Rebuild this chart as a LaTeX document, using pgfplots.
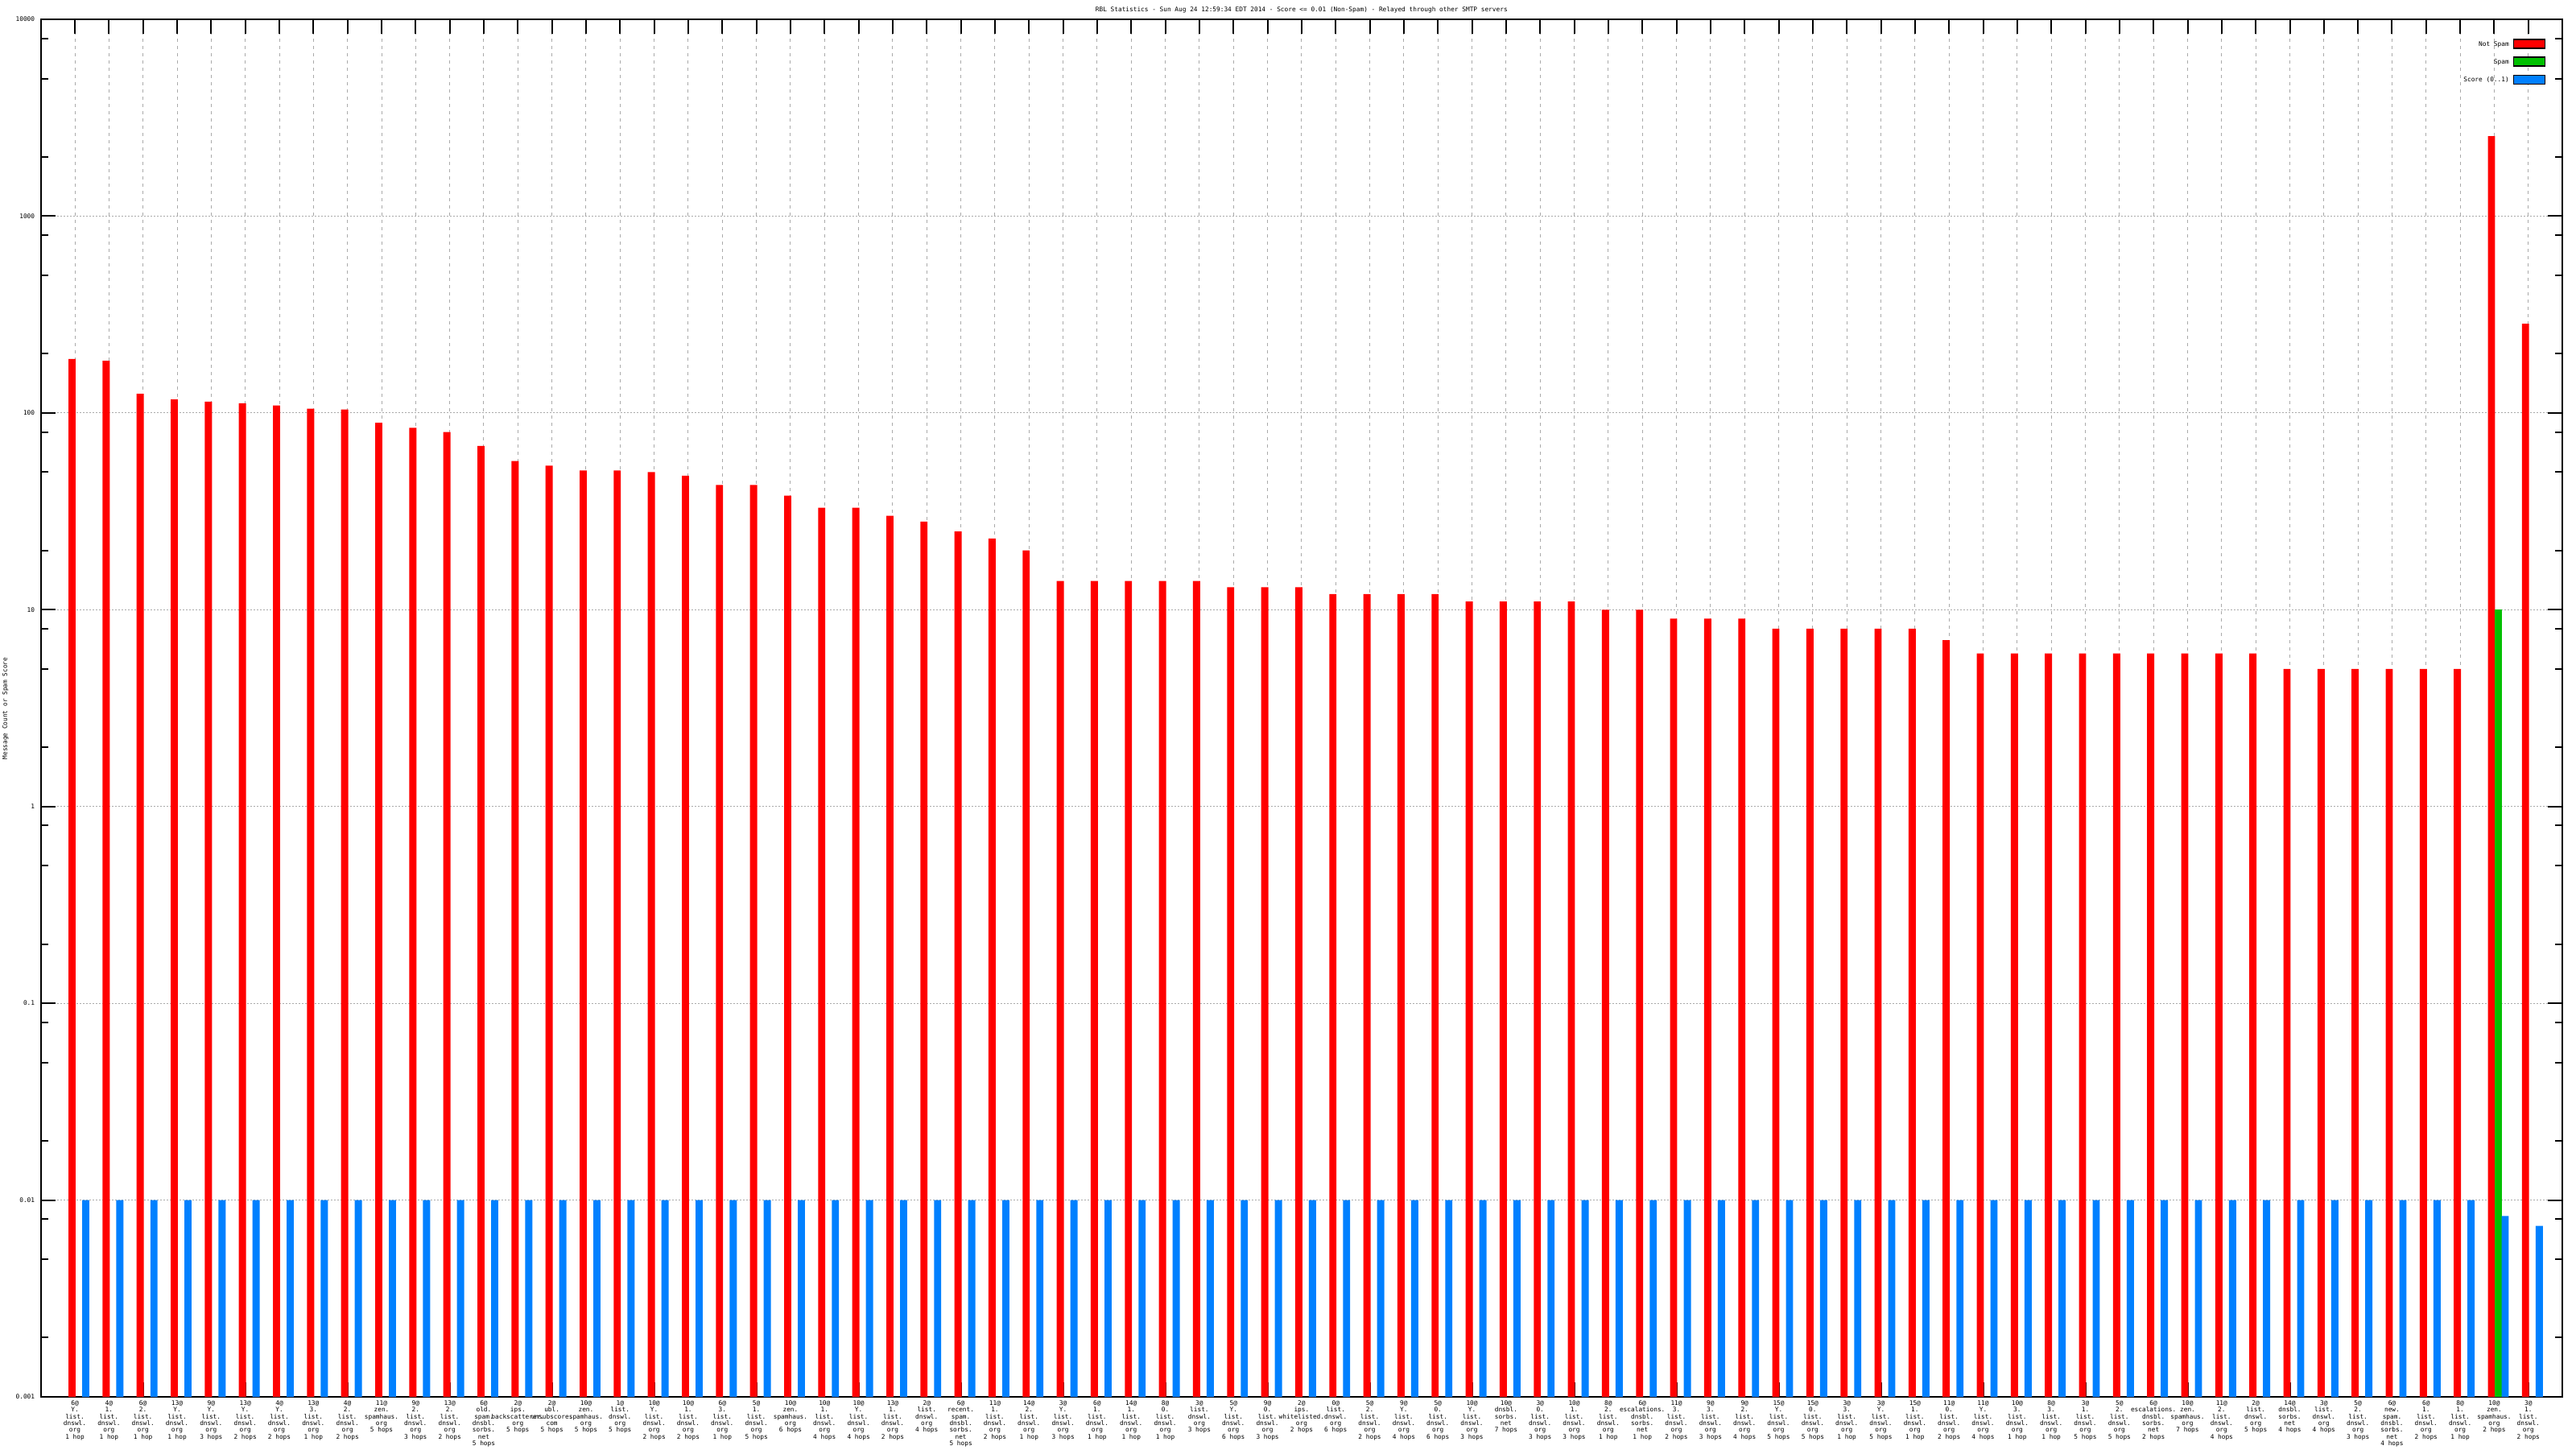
\documentclass[border=0pt]{standalone}
\usepackage{pgfplots}
\pgfplotsset{compat=1.18}
\usepackage{pgfplotstable}
\usepackage{fontspec}
\setmainfont{DejaVu Sans Mono}
\newcommand{\pxfont}{\fontsize{1.95}{2.08}\selectfont}
\definecolor{nsred}{RGB}{255,0,0}
\definecolor{spgreen}{RGB}{0,192,0}
\definecolor{scblue}{RGB}{0,128,255}
\definecolor{gridgray}{RGB}{170,170,170}

\pgfplotstableread{
idx red blue
0 188 0.01
1 184 0.01
2 125 0.01
3 117 0.01
4 114 0.01
5 112 0.01
6 109 0.01
7 105 0.01
8 104 0.01
9 89 0.01
10 84 0.01
11 80 0.01
12 68 0.01
13 57 0.01
14 54 0.01
15 51 0.01
16 51 0.01
17 50 0.01
18 48 0.01
19 43 0.01
20 43 0.01
21 38 0.01
22 33 0.01
23 33 0.01
24 30 0.01
25 28 0.01
26 25 0.01
27 23 0.01
28 20 0.01
29 14 0.01
30 14 0.01
31 14 0.01
32 14 0.01
33 14 0.01
34 13 0.01
35 13 0.01
36 13 0.01
37 12 0.01
38 12 0.01
39 12 0.01
40 12 0.01
41 11 0.01
42 11 0.01
43 11 0.01
44 11 0.01
45 10 0.01
46 10 0.01
47 9 0.01
48 9 0.01
49 9 0.01
50 8 0.01
51 8 0.01
52 8 0.01
53 8 0.01
54 8 0.01
55 7 0.01
56 6 0.01
57 6 0.01
58 6 0.01
59 6 0.01
60 6 0.01
61 6 0.01
62 6 0.01
63 6 0.01
64 6 0.01
65 5 0.01
66 5 0.01
67 5 0.01
68 5 0.01
69 5 0.01
70 5 0.01
71 2550 0.0083
72 284 0.0074
}\rbldata

\begin{document}
\begin{tikzpicture}
\path[use as bounding box] (0,0) rectangle (800pt,450pt);
\begin{axis}[
  at={(12.675pt,16.25pt)}, anchor=south west,
  scale only axis, width=783.1pt, height=427.75pt,
  ymode=log, ymin=0.001, ymax=10000, log origin=infty,
  xmin=-1, xmax=73,
  xtick={0,...,72},
  xticklabels={
    {6@\\Y.\\list.\\dnswl.\\org\\1 hop},
    {4@\\1.\\list.\\dnswl.\\org\\1 hop},
    {6@\\2.\\list.\\dnswl.\\org\\1 hop},
    {13@\\Y.\\list.\\dnswl.\\org\\1 hop},
    {9@\\Y.\\list.\\dnswl.\\org\\3 hops},
    {13@\\Y.\\list.\\dnswl.\\org\\2 hops},
    {4@\\Y.\\list.\\dnswl.\\org\\2 hops},
    {13@\\3.\\list.\\dnswl.\\org\\1 hop},
    {4@\\2.\\list.\\dnswl.\\org\\2 hops},
    {11@\\zen.\\spamhaus.\\org\\5 hops},
    {9@\\2.\\list.\\dnswl.\\org\\3 hops},
    {13@\\2.\\list.\\dnswl.\\org\\2 hops},
    {6@\\old.\\spam.\\dnsbl.\\sorbs.\\net\\5 hops},
    {2@\\ips.\\backscatterer.\\org\\5 hops},
    {2@\\ubl.\\unsubscore.\\com\\5 hops},
    {10@\\zen.\\spamhaus.\\org\\5 hops},
    {1@\\list.\\dnswl.\\org\\5 hops},
    {10@\\Y.\\list.\\dnswl.\\org\\2 hops},
    {10@\\1.\\list.\\dnswl.\\org\\2 hops},
    {6@\\3.\\list.\\dnswl.\\org\\1 hop},
    {5@\\1.\\list.\\dnswl.\\org\\5 hops},
    {10@\\zen.\\spamhaus.\\org\\6 hops},
    {10@\\1.\\list.\\dnswl.\\org\\4 hops},
    {10@\\Y.\\list.\\dnswl.\\org\\4 hops},
    {13@\\1.\\list.\\dnswl.\\org\\2 hops},
    {2@\\list.\\dnswl.\\org\\4 hops},
    {6@\\recent.\\spam.\\dnsbl.\\sorbs.\\net\\5 hops},
    {11@\\1.\\list.\\dnswl.\\org\\2 hops},
    {14@\\2.\\list.\\dnswl.\\org\\1 hop},
    {3@\\Y.\\list.\\dnswl.\\org\\3 hops},
    {6@\\1.\\list.\\dnswl.\\org\\1 hop},
    {14@\\1.\\list.\\dnswl.\\org\\1 hop},
    {8@\\0.\\list.\\dnswl.\\org\\1 hop},
    {3@\\list.\\dnswl.\\org\\3 hops},
    {5@\\Y.\\list.\\dnswl.\\org\\6 hops},
    {9@\\0.\\list.\\dnswl.\\org\\3 hops},
    {2@\\ips.\\whitelisted.\\org\\2 hops},
    {0@\\list.\\dnswl.\\org\\6 hops},
    {5@\\2.\\list.\\dnswl.\\org\\2 hops},
    {9@\\Y.\\list.\\dnswl.\\org\\4 hops},
    {5@\\0.\\list.\\dnswl.\\org\\6 hops},
    {10@\\Y.\\list.\\dnswl.\\org\\3 hops},
    {10@\\dnsbl.\\sorbs.\\net\\7 hops},
    {3@\\0.\\list.\\dnswl.\\org\\3 hops},
    {10@\\1.\\list.\\dnswl.\\org\\3 hops},
    {8@\\2.\\list.\\dnswl.\\org\\1 hop},
    {6@\\escalations.\\dnsbl.\\sorbs.\\net\\1 hop},
    {11@\\3.\\list.\\dnswl.\\org\\2 hops},
    {9@\\3.\\list.\\dnswl.\\org\\3 hops},
    {9@\\2.\\list.\\dnswl.\\org\\4 hops},
    {15@\\Y.\\list.\\dnswl.\\org\\5 hops},
    {15@\\0.\\list.\\dnswl.\\org\\5 hops},
    {3@\\3.\\list.\\dnswl.\\org\\1 hop},
    {3@\\Y.\\list.\\dnswl.\\org\\5 hops},
    {15@\\1.\\list.\\dnswl.\\org\\1 hop},
    {11@\\0.\\list.\\dnswl.\\org\\2 hops},
    {11@\\Y.\\list.\\dnswl.\\org\\4 hops},
    {10@\\3.\\list.\\dnswl.\\org\\1 hop},
    {8@\\3.\\list.\\dnswl.\\org\\1 hop},
    {3@\\1.\\list.\\dnswl.\\org\\5 hops},
    {5@\\2.\\list.\\dnswl.\\org\\5 hops},
    {6@\\escalations.\\dnsbl.\\sorbs.\\net\\2 hops},
    {10@\\zen.\\spamhaus.\\org\\7 hops},
    {11@\\2.\\list.\\dnswl.\\org\\4 hops},
    {2@\\list.\\dnswl.\\org\\5 hops},
    {14@\\dnsbl.\\sorbs.\\net\\4 hops},
    {3@\\list.\\dnswl.\\org\\4 hops},
    {5@\\2.\\list.\\dnswl.\\org\\3 hops},
    {6@\\new.\\spam.\\dnsbl.\\sorbs.\\net\\4 hops},
    {6@\\1.\\list.\\dnswl.\\org\\2 hops},
    {8@\\1.\\list.\\dnswl.\\org\\1 hop},
    {10@\\zen.\\spamhaus.\\org\\2 hops},
    {3@\\1.\\list.\\dnswl.\\org\\2 hops}
  },
  ytick={0.001,0.01,0.1,1,10,100,1000,10000},
  yticklabels={0.001,0.01,0.1,1,10,100,1000,10000},
  minor ytick={0.002,0.005,0.008,0.02,0.05,0.08,0.2,0.5,0.8,2,5,8,20,50,80,200,500,800,2000,5000,8000},
  major tick length=4.5pt, minor tick length=2.3pt,
  tick align=inside,
  tick style={line width=0.5pt, black},
  axis line style={line width=0.5pt},
  xmajorgrids, ymajorgrids,
  x grid style={gridgray, line width=0.25pt, dash pattern=on 1pt off 1.25pt},
  y grid style={gridgray, line width=0.25pt, dash pattern=on 0.5pt off 0.5pt},
  xticklabel style={font=\pxfont, align=center, inner sep=0pt, anchor=north, yshift=-1pt},
  yticklabel style={font=\pxfont, inner sep=0pt, anchor=east, xshift=-1.7pt},
  legend style={at={(1,1)}, anchor=north east, xshift=-2pt, yshift=-3.9pt,
    draw=none, fill=none, font=\pxfont, row sep=1.8pt, column sep=1.25pt,
    nodes={inner sep=0pt}},
  legend plot pos=right, legend cell align=right,
  legend image code/.code={\fill[#1] (0pt,-0.7pt) rectangle (9.75pt,2.05pt);},
]
\addplot[ybar, bar width=0.21, bar shift=0pt, fill=nsred, draw=none, forget plot]
  table[x expr=\thisrow{idx}-0.083, y=red] {\rbldata};
\addplot[ybar, bar width=0.21, bar shift=0pt, fill=spgreen, draw=none, forget plot]
  coordinates {(71.118,10)};
\addplot[ybar, bar width=0.21, bar shift=0pt, fill=scblue, draw=none, forget plot]
  table[x expr=\thisrow{idx}+0.319, y=blue] {\rbldata};
\addlegendimage{fill=nsred}
\addlegendentry{Not Spam}
\addlegendimage{fill=spgreen}
\addlegendentry{Spam}
\addlegendimage{fill=scblue}
\addlegendentry{Score (0..1)}
\end{axis}
\node[font=\pxfont, anchor=center] at (404.2pt,447pt) {RBL Statistics - Sun Aug 24 12:59:34 EDT 2014 - Score <= 0.01 (Non-Spam) - Relayed through other SMTP servers};
\node[font=\pxfont, rotate=90, anchor=center] at (1.7pt,230pt) {Message Count or Spam Score};
\end{tikzpicture}
\end{document}
